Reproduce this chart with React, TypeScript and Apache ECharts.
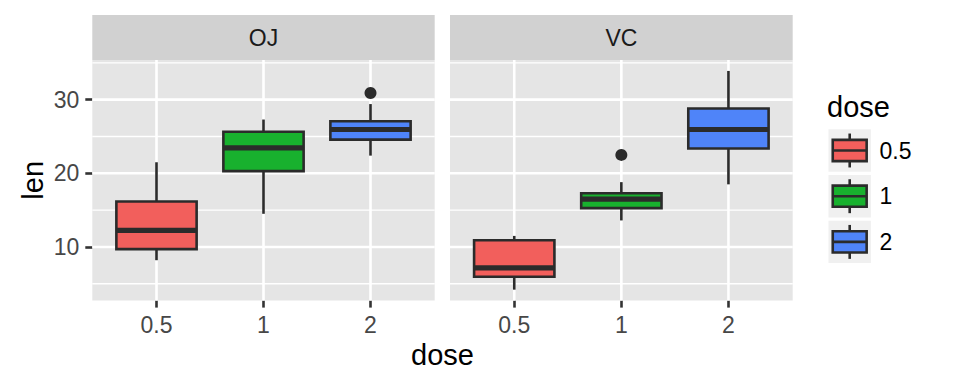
import React, { useEffect, useRef } from "react";
import * as echarts from "echarts";

// ---- data ----
const facets = ["OJ", "VC"];
const doses = ["0.5", "1", "2"];
const doseColors = ["#F25F5C", "#18B12E", "#4F84F9"];
// box statistics per dose: [min whisker, Q1, median, Q3, max whisker]
const ojStats = [
  [8.2, 9.7, 12.25, 16.175, 21.5],
  [14.5, 20.3, 23.45, 25.65, 27.3],
  [22.4, 24.575, 25.95, 27.075, 29.4],
];
const vcStats = [
  [4.2, 5.95, 7.15, 10.9, 11.5],
  [13.6, 15.275, 16.5, 17.3, 18.8],
  [18.5, 23.375, 25.95, 28.8, 33.9],
];
// outliers: [dose position (1..3), len]
const ojOutliers = [[3, 30.9]];
const vcOutliers = [[2, 22.5]];
const yTicks = [10, 20, 30];
const yMinor = [5, 15, 25, 35];
const xTicks = [1, 2, 3];
const yRange = [2.715, 35.385];
const xRange = [0.4, 3.6];

// ---- styling ----
const FONT = "'Liberation Sans', Arial, Helvetica, sans-serif";
const OUTLINE = "#2B2B2B";
const LW = 2.6;
const PANEL_BG = "#E5E5E5";
const STRIP_BG = "#D1D1D1";
const TICK_COL = "#474747";
const panels = [
  { left: 92.3, width: 342.4 },
  { left: 450, width: 342.7 },
];
const PANEL_TOP = 60;
const PANEL_H = 240.6;

export default function App() {
  const ref = useRef<HTMLDivElement>(null);

  useEffect(() => {
    if (!ref.current) return;
    const chart = echarts.init(ref.current, null, { renderer: "svg" });

    const statsByFacet = [ojStats, vcStats];
    const outByFacet = [ojOutliers, vcOutliers];

    const grids = panels.map((p) => ({
      left: p.left,
      top: PANEL_TOP,
      width: p.width,
      height: PANEL_H,
      show: true,
      backgroundColor: PANEL_BG,
      borderWidth: 0,
      containLabel: false,
      outerBoundsMode: "none",
    }));

    const xAxes = panels.map((_, gi) => ({
      type: "value",
      gridIndex: gi,
      min: xRange[0],
      max: xRange[1],
      axisLine: { show: false },
      splitLine: { show: false },
      axisTick: {
        show: true,
        customValues: xTicks,
        length: 7,
        lineStyle: { color: "#333333", width: LW },
      },
      axisLabel: {
        show: true,
        customValues: xTicks,
        margin: 13,
        color: TICK_COL,
        fontSize: 23,
        fontFamily: FONT,
        formatter: (v: number) => doses[Math.round(v) - 1] ?? "",
      },
    }));

    const yAxes = panels.map((_, gi) => ({
      type: "value",
      gridIndex: gi,
      min: yRange[0],
      max: yRange[1],
      axisLine: { show: false },
      splitLine: { show: false },
      axisTick: {
        show: gi === 0,
        customValues: yTicks,
        length: 7,
        lineStyle: { color: "#333333", width: LW },
      },
      axisLabel: {
        show: gi === 0,
        customValues: yTicks,
        margin: 13,
        color: TICK_COL,
        fontSize: 23,
        fontFamily: FONT,
      },
    }));

    const series: any[] = [];
    panels.forEach((_, gi) => {
      // grid lines: [kind, value] kind 0 = major horizontal, 1 = minor horizontal, 2 = vertical
      const gridData = [
        ...yMinor.map((v) => [1, v]),
        ...yTicks.map((v) => [0, v]),
        ...xTicks.map((v) => [2, v]),
      ];
      series.push({
        type: "custom",
        xAxisIndex: gi,
        yAxisIndex: gi,
        z: 1,
        silent: true,
        data: gridData,
        encode: { x: -1, y: -1 },
        renderItem: (_p: any, api: any) => {
          const kind = api.value(0);
          const v = api.value(1);
          let a, b;
          if (kind === 2) {
            a = api.coord([v, yRange[0]]);
            b = api.coord([v, yRange[1]]);
          } else {
            a = api.coord([xRange[0], v]);
            b = api.coord([xRange[1], v]);
          }
          return {
            type: "line",
            shape: { x1: a[0], y1: a[1], x2: b[0], y2: b[1] },
            style: { stroke: "#FFFFFF", lineWidth: kind === 1 ? 1.3 : LW },
          };
        },
      });

      // boxes
      series.push({
        type: "custom",
        xAxisIndex: gi,
        yAxisIndex: gi,
        z: 3,
        silent: true,
        data: statsByFacet[gi].map((s, i) => [i + 1, ...s, i]),
        encode: { x: 0, y: [1, 2, 3, 4, 5] },
        renderItem: (_p: any, api: any) => {
          const x = api.value(0);
          const mn = api.value(1);
          const q1 = api.value(2);
          const md = api.value(3);
          const q3 = api.value(4);
          const mx = api.value(5);
          const ci = api.value(6);
          const half = api.size([0.75, 0])[0] / 2;
          const pMin = api.coord([x, mn]);
          const pQ1 = api.coord([x, q1]);
          const pMd = api.coord([x, md]);
          const pQ3 = api.coord([x, q3]);
          const pMax = api.coord([x, mx]);
          const ls = { stroke: OUTLINE, lineWidth: LW };
          return {
            type: "group",
            children: [
              { type: "line", shape: { x1: pMax[0], y1: pMax[1], x2: pQ3[0], y2: pQ3[1] }, style: ls },
              { type: "line", shape: { x1: pQ1[0], y1: pQ1[1], x2: pMin[0], y2: pMin[1] }, style: ls },
              {
                type: "rect",
                shape: { x: pQ3[0] - half, y: pQ3[1], width: half * 2, height: pQ1[1] - pQ3[1] },
                style: { fill: doseColors[ci], stroke: OUTLINE, lineWidth: LW },
              },
              {
                type: "line",
                shape: { x1: pMd[0] - half, y1: pMd[1], x2: pMd[0] + half, y2: pMd[1] },
                style: { stroke: OUTLINE, lineWidth: LW * 2 },
              },
            ],
          };
        },
      });

      // outliers
      series.push({
        type: "scatter",
        xAxisIndex: gi,
        yAxisIndex: gi,
        z: 4,
        silent: true,
        symbol: "circle",
        symbolSize: 12,
        itemStyle: { color: OUTLINE, opacity: 1 },
        data: outByFacet[gi],
      });
    });

    // ---- graphics: strips, titles, legend ----
    const graphic: any[] = [];
    panels.forEach((p, gi) => {
      graphic.push({
        type: "rect",
        shape: { x: p.left, y: 15, width: p.width, height: 45 },
        style: { fill: STRIP_BG },
        silent: true,
      });
      graphic.push({
        type: "text",
        x: p.left + p.width / 2,
        y: 37.5,
        style: {
          text: facets[gi],
          fontSize: 23,
          fontFamily: FONT,
          fill: "#1A1A1A",
          align: "center",
          verticalAlign: "middle",
          textAlign: "center",
          textVerticalAlign: "middle",
        },
        silent: true,
      });
    });

    graphic.push({
      type: "text",
      x: (panels[0].left + panels[1].left + panels[1].width) / 2,
      y: 355,
      style: {
        text: "dose",
        fontSize: 29,
        fontFamily: FONT,
        fill: "#000000",
        align: "center",
        verticalAlign: "middle",
        textAlign: "center",
        textVerticalAlign: "middle",
      },
      silent: true,
    });
    graphic.push({
      type: "text",
      x: 32.5,
      y: PANEL_TOP + PANEL_H / 2,
      rotation: Math.PI / 2,
      style: {
        text: "len",
        fontSize: 29,
        fontFamily: FONT,
        fill: "#000000",
        align: "center",
        verticalAlign: "middle",
        textAlign: "center",
        textVerticalAlign: "middle",
      },
      silent: true,
    });

    // legend
    const KEY_X = 828.5;
    const KEY_Y0 = 129.3;
    const KEY_STEP = 45.7;
    const S = 42.4;
    graphic.push({
      type: "text",
      x: 827,
      y: 107,
      style: {
        text: "dose",
        fontSize: 29,
        fontFamily: FONT,
        fill: "#000000",
        align: "left",
        verticalAlign: "middle",
        textAlign: "left",
        textVerticalAlign: "middle",
      },
      silent: true,
    });
    doses.forEach((d, i) => {
      const ky = KEY_Y0 + i * KEY_STEP;
      const cx = KEY_X + S / 2;
      graphic.push({
        type: "rect",
        shape: { x: KEY_X, y: ky, width: S, height: S },
        style: { fill: "#F0F0F0" },
        silent: true,
      });
      graphic.push({
        type: "line",
        shape: { x1: cx, y1: ky + 0.1 * S, x2: cx, y2: ky + 0.9 * S },
        style: { stroke: OUTLINE, lineWidth: LW },
        silent: true,
      });
      graphic.push({
        type: "rect",
        shape: { x: KEY_X + 0.1 * S, y: ky + 0.25 * S, width: 0.8 * S, height: 0.5 * S },
        style: { fill: doseColors[i], stroke: OUTLINE, lineWidth: LW },
        silent: true,
      });
      graphic.push({
        type: "line",
        shape: { x1: KEY_X + 0.1 * S, y1: ky + 0.5 * S, x2: KEY_X + 0.9 * S, y2: ky + 0.5 * S },
        style: { stroke: OUTLINE, lineWidth: LW },
        silent: true,
      });
      graphic.push({
        type: "text",
        x: 879.5,
        y: ky + S / 2,
        style: {
          text: d,
          fontSize: 23,
          fontFamily: FONT,
          fill: "#000000",
          align: "left",
          verticalAlign: "middle",
          textAlign: "left",
          textVerticalAlign: "middle",
        },
        silent: true,
      });
    });

    chart.setOption({
      animation: false,
      backgroundColor: "#FFFFFF",
      textStyle: { fontFamily: FONT },
      grid: grids,
      xAxis: xAxes,
      yAxis: yAxes,
      series,
      graphic,
    });

    return () => {
      chart.dispose();
    };
  }, []);

  return (
    <div
      ref={ref}
      style={{ position: "fixed", left: 0, top: 0, width: 960, height: 384 }}
    />
  );
}
